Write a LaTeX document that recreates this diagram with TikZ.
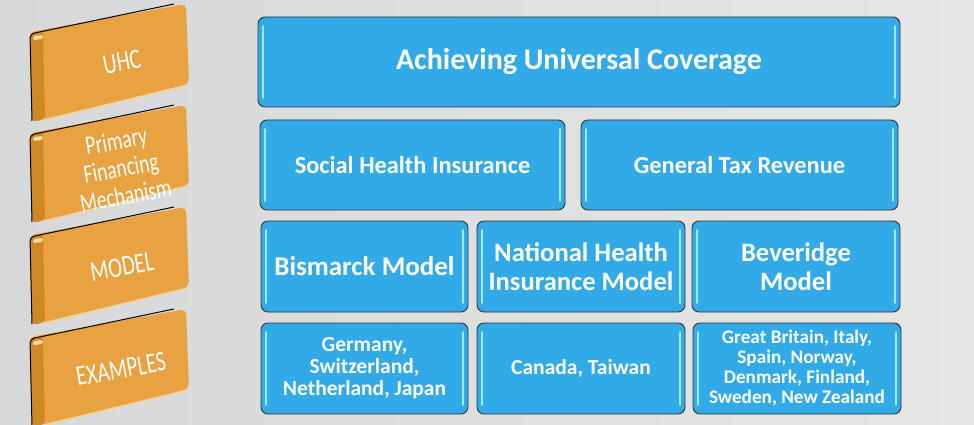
\documentclass[tikz,border=0pt]{standalone}
\usepackage{fontspec}
\setmainfont{Carlito}
\definecolor{bgL}{HTML}{D6D8D9}
\definecolor{bgM}{HTML}{F1F1F1}
\definecolor{bgR}{HTML}{E6E6E6}
\definecolor{tabor}{HTML}{E9A241}
\definecolor{tabdark}{HTML}{D08827}
\definecolor{tablight}{HTML}{F7D58E}
\definecolor{boxblue}{HTML}{33AAE8}
\definecolor{hlblue}{HTML}{9CEBFF}
\tikzset{
  bluebox/.style={rounded corners=7pt, fill=boxblue, draw=black!80, line width=0.9pt,
    text=white, align=center, inner sep=0pt, font=\bfseries,
    path picture={
      \draw[hlblue, line width=1.6pt, line cap=round]
        ([xshift=5pt,yshift=-9pt]path picture bounding box.north west) --
        ([xshift=5pt,yshift=9pt]path picture bounding box.south west);
      \draw[hlblue, line width=1.6pt, line cap=round]
        ([xshift=-5pt,yshift=-9pt]path picture bounding box.north east) --
        ([xshift=-5pt,yshift=9pt]path picture bounding box.south east);
    }},
  tabtext/.style={text=white, align=center, inner sep=0pt, rotate=10, yscale=1.35,
    font=\fontsize{21}{20.5}\selectfont}
}
\newcommand\bbox[7]{%
  \node[bluebox, minimum width=#4pt-#2pt, minimum height=#5pt-#3pt, #7]
    (#1) at ({(#2+#4)/2},{(#3+#5)/2}) {#6};}
\newcommand\tabshape[1]{%
  \begin{scope}[shift={(0,#1)}]
    \fill[tabor, rounded corners=5pt] (30,32) -- (186,4) -- (189,84) -- (32,122) -- cycle;
    \fill[tabdark, rounded corners=4pt] (30,33) -- (43,31) -- (45,119) -- (32,122) -- cycle;
    \fill[tablight!80!white, rounded corners=2pt] (33,36) -- (43,35) -- (43,39) -- (33,40) -- cycle;
    \draw[tablight, line width=1.4pt] (46,120) -- (188,85);
    \draw[black, line width=1pt, rounded corners=4pt] (32,121) -- (30,34) -- (174,4);
  \end{scope}}
\begin{document}
\begin{tikzpicture}[x=1pt,y=-1pt]
\useasboundingbox (0,0) rectangle (974,425);
\shade[left color=bgL, middle color=bgM, right color=bgR] (0,0) rectangle (974,425);
% left tabs
\tabshape{0}
\tabshape{101}
\tabshape{203}
\tabshape{305}
\node[tabtext] (uhc) at (122,62) {UHC};
\node[tabtext, font=\fontsize{19.5}{20.5}\selectfont] (pfm) at (121,168) {Primary\\Financing\\Mechanism};
\node[tabtext] (model) at (122,267) {MODEL};
\node[tabtext] (examples) at (121,369) {EXAMPLES};
% blue boxes
\bbox{auc}{258}{17}{900}{107}{Achieving Universal Coverage}{font=\bfseries\fontsize{30}{32}\selectfont}
\bbox{shi}{260}{120}{565}{210}{Social Health Insurance}{font=\bfseries\fontsize{24.4}{26}\selectfont}
\bbox{gtr}{581}{120}{898}{210}{General Tax Revenue}{font=\bfseries\fontsize{24.4}{26}\selectfont}
\bbox{bis}{261}{221}{468}{312}{Bismarck Model}{font=\bfseries\fontsize{27}{29}\selectfont}
\bbox{nhi}{477}{221}{685}{312}{National Health\\Insurance Model}{font=\bfseries\fontsize{26.6}{29}\selectfont}
\bbox{bev}{692}{221}{900}{312}{Beveridge\\Model}{font=\bfseries\fontsize{26.6}{29}\selectfont}
\bbox{ex1}{261}{323}{468}{414}{Germany,\\Switzerland,\\Netherland, Japan}{font=\bfseries\fontsize{21.5}{22}\selectfont}
\bbox{ex2}{477}{323}{685}{414}{Canada, Taiwan}{font=\bfseries\fontsize{21.5}{22}\selectfont}
\bbox{ex3}{693}{323}{901}{414}{Great Britain, Italy,\\Spain, Norway,\\Denmark, Finland,\\Sweden, New Zealand}{font=\bfseries\fontsize{19.2}{20}\selectfont}
\end{tikzpicture}
\end{document}
